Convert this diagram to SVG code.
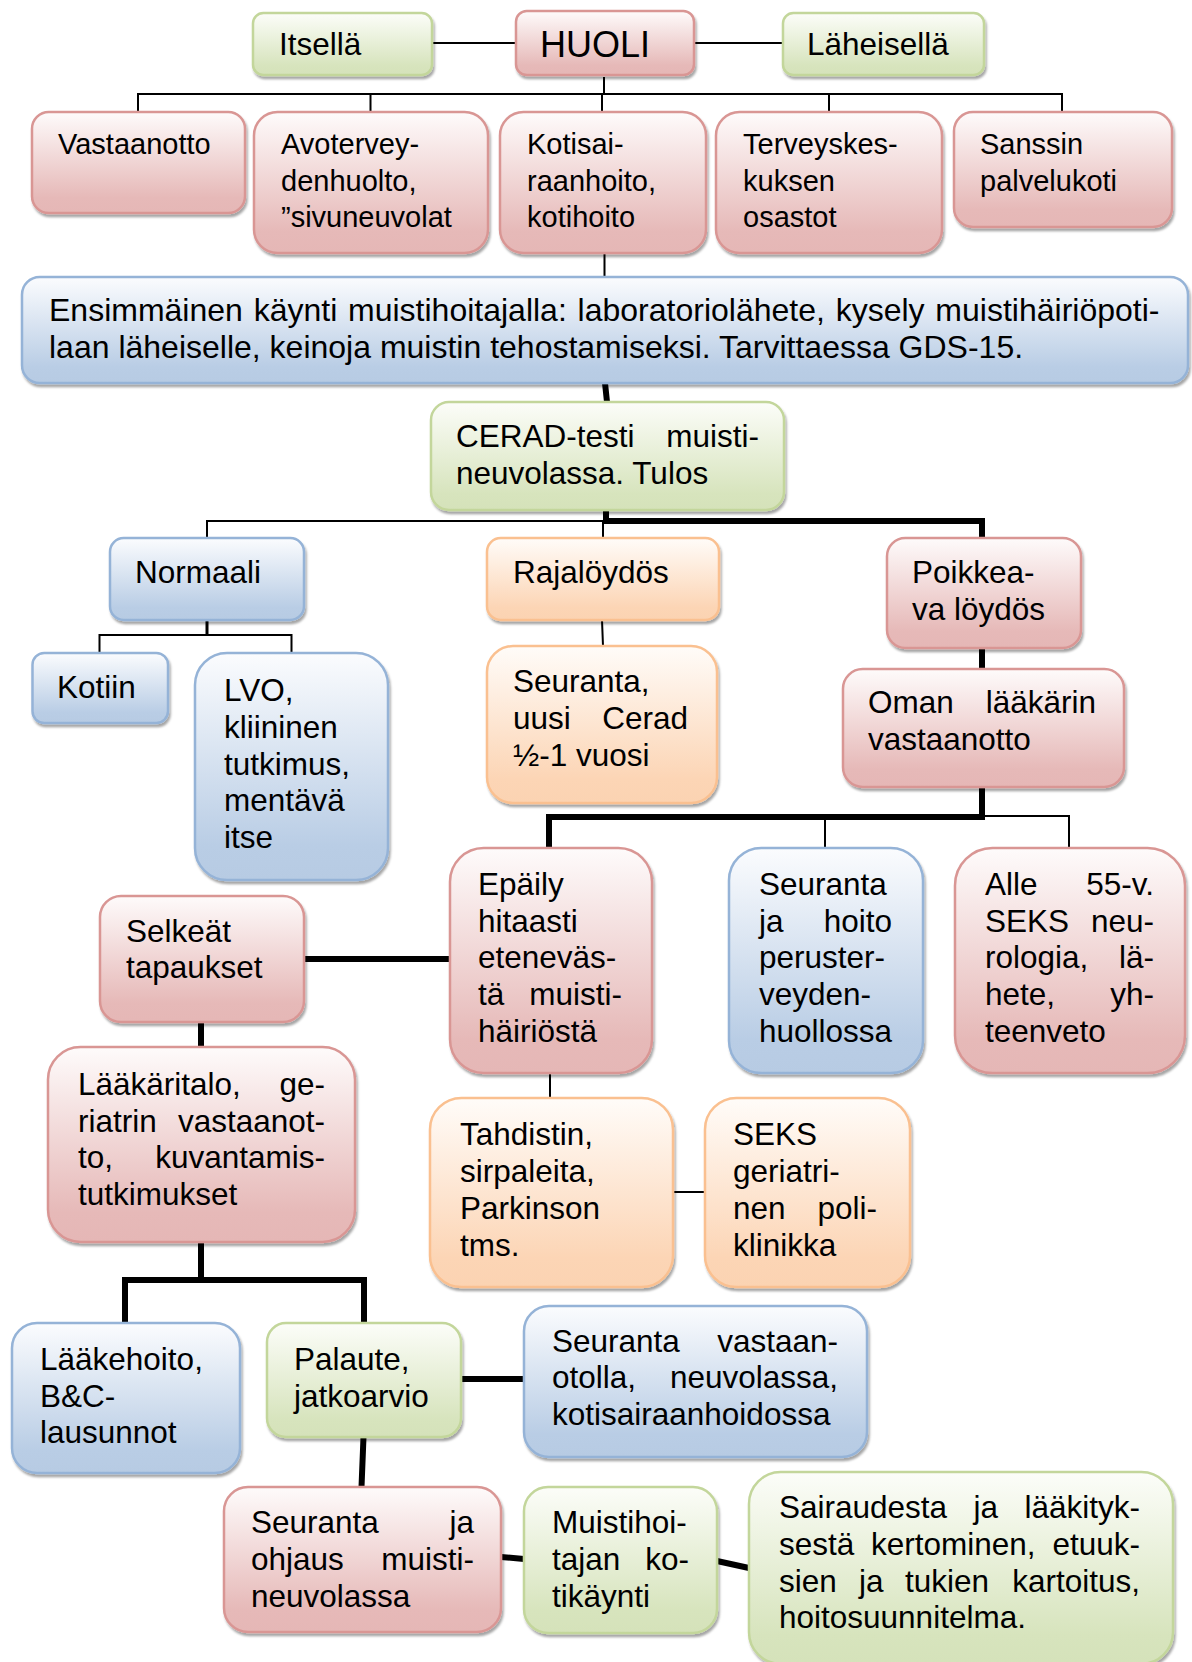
<svg xmlns="http://www.w3.org/2000/svg" width="1192" height="1662" viewBox="0 0 1192 1662">
<defs>
<linearGradient id="gR" x1="0" y1="0" x2="0" y2="1"><stop offset="0" stop-color="#fefbfb"/><stop offset="0.85" stop-color="#e6b9b8"/><stop offset="1" stop-color="#e5b7b6"/></linearGradient>
<linearGradient id="gG" x1="0" y1="0" x2="0" y2="1"><stop offset="0" stop-color="#fcfdf9"/><stop offset="0.85" stop-color="#d7e4bd"/><stop offset="1" stop-color="#d5e2ba"/></linearGradient>
<linearGradient id="gB" x1="0" y1="0" x2="0" y2="1"><stop offset="0" stop-color="#fbfcfe"/><stop offset="0.85" stop-color="#b9cde5"/><stop offset="1" stop-color="#b7cbe3"/></linearGradient>
<linearGradient id="gO" x1="0" y1="0" x2="0" y2="1"><stop offset="0" stop-color="#fffcf9"/><stop offset="0.85" stop-color="#fcd5b5"/><stop offset="1" stop-color="#fbd3b2"/></linearGradient>
<filter id="sh" x="-5%" y="-5%" width="115%" height="125%"><feDropShadow dx="1.5" dy="3" stdDeviation="1.3" flood-color="#000" flood-opacity="0.35"/></filter>
</defs>
<style>
rect{stroke-width:2.5;filter:url(#sh)}
.r rect{fill:url(#gR);stroke:#d99694}
.g rect{fill:url(#gG);stroke:#c3d69b}
.b rect{fill:url(#gB);stroke:#95b3d7}
.o rect{fill:url(#gO);stroke:#fac090}
text{font-family:"Liberation Sans",Arial,sans-serif;font-size:31.5px;fill:#000}
.s text{font-size:29px}
.e{text-anchor:end}
#conn path{stroke:#000;fill:none;stroke-linecap:butt;stroke-linejoin:miter}
#conn .th{stroke-width:2}
#conn .md{stroke-width:3}
#conn .tk{stroke-width:6}
</style>
<g id="conn">
<path class="th" d="M432 43H516M694 43H783M604 77V94M138 112V94H1062V112M370.5 94V112M602 94V112M829 94V112M604.5 253V277"/>
<path class="th" d="M207 538V521H606M603 521V538M602 620L603 646M99.5 653V635H291.5V653M982 816H1069V848M825 817V848M550 1073V1098M673 1192H705"/>
<path class="md" d="M207 620V635"/>
<path class="tk" d="M605 383L607 402M606 510V521H982V538M982 648V669M982 787V817H549V848M304 959H450M201 1022V1047M201 1242V1280M125 1323V1280H364V1323M461 1379H524M363.5 1437L361.5 1487M501 1557L524 1559M717 1561L749 1568"/>
</g>
<g id="n-itsella" class="g"><rect x="253" y="13" width="179" height="62" rx="10.3"/><text x="279" y="55">Itsellä</text></g>
<g id="n-huoli" class="r"><rect x="516" y="11" width="178" height="64" rx="10.7"/><text x="540" y="57" style="font-size:36px">HUOLI</text></g>
<g id="n-laheisella" class="g"><rect x="783" y="13" width="201" height="62" rx="10.3"/><text x="807" y="55">Läheisellä</text></g>
<g id="n-vastaanotto" class="r s"><rect x="32" y="112" width="213" height="101" rx="16.8"/><text x="58" y="154">Vastaanotto</text></g>
<g id="n-avo" class="r s"><rect x="254" y="112" width="234" height="141" rx="23.5"/><text x="281" y="154">Avotervey-</text><text x="281" y="190.5">denhuolto,</text><text x="281" y="227">”sivuneuvolat</text></g>
<g id="n-kotisai" class="r s"><rect x="500" y="112" width="206" height="141" rx="23.5"/><text x="527" y="154">Kotisai-</text><text x="527" y="190.5">raanhoito,</text><text x="527" y="227">kotihoito</text></g>
<g id="n-terveys" class="r s"><rect x="716" y="112" width="226" height="141" rx="23.5"/><text x="743" y="154">Terveyskes-</text><text x="743" y="190.5">kuksen</text><text x="743" y="227">osastot</text></g>
<g id="n-sanssin" class="r s"><rect x="954" y="112" width="218" height="115" rx="19"/><text x="980" y="154">Sanssin</text><text x="980" y="190.5">palvelukoti</text></g>
<g id="n-ensimmainen" class="b"><rect x="22" y="277" width="1166" height="106" rx="17.7"/><text x="49" y="321" style="font-size:32px" word-spacing="1.9">Ensimmäinen käynti muistihoitajalla: laboratoriolähete, kysely muistihäiriöpoti-</text><text x="49" y="358" style="font-size:32px">laan läheiselle, keinoja muistin tehostamiseksi. Tarvittaessa GDS-15.</text></g>
<g id="n-cerad" class="g"><rect x="431" y="402" width="353" height="108" rx="18"/><text x="456" y="447">CERAD-testi</text><text class="e" x="759" y="447">muisti-</text><text x="456" y="484">neuvolassa. Tulos</text></g>
<g id="n-normaali" class="b"><rect x="110" y="538" width="194" height="82" rx="13.7"/><text x="135" y="583">Normaali</text></g>
<g id="n-rajaloydos" class="o"><rect x="487" y="538" width="232" height="82" rx="13.7"/><text x="513" y="583">Rajalöydös</text></g>
<g id="n-poikkea" class="r"><rect x="887" y="538" width="194" height="110" rx="18.3"/><text x="912" y="583">Poikkea-</text><text x="912" y="620">va löydös</text></g>
<g id="n-kotiin" class="b"><rect x="32.5" y="653" width="135.5" height="70" rx="11.7"/><text x="57" y="698">Kotiin</text></g>
<g id="n-lvo" class="b"><rect x="195" y="653" width="193" height="227" rx="32"/><text x="224" y="701">LVO,</text><text x="224" y="738">kliininen</text><text x="224" y="775">tutkimus,</text><text x="224" y="811">mentävä</text><text x="224" y="848">itse</text></g>
<g id="n-seuranta-cerad" class="o"><rect x="487" y="646" width="230" height="157" rx="26"/><text x="513" y="692">Seuranta,</text><text x="513" y="729">uusi</text><text class="e" x="688" y="729">Cerad</text><text x="513" y="766">½-1 vuosi</text></g>
<g id="n-oman" class="r"><rect x="843" y="669" width="281" height="118" rx="19.7"/><text x="868" y="713">Oman</text><text class="e" x="1096" y="713">lääkärin</text><text x="868" y="750">vastaanotto</text></g>
<g id="n-epaily" class="r"><rect x="450" y="848" width="202" height="225" rx="33.7"/><text x="478" y="895">Epäily</text><text x="478" y="932">hitaasti</text><text x="478" y="968">eteneväs-</text><text x="478" y="1005">tä</text><text class="e" x="622" y="1005">muisti-</text><text x="478" y="1042">häiriöstä</text></g>
<g id="n-seuranta-hoito" class="b"><rect x="729" y="848" width="194" height="225" rx="32.3"/><text x="759" y="895">Seuranta</text><text x="759" y="932">ja</text><text class="e" x="892" y="932">hoito</text><text x="759" y="968">peruster-</text><text x="759" y="1005">veyden-</text><text x="759" y="1042">huollossa</text></g>
<g id="n-alle55" class="r"><rect x="955" y="848" width="230" height="225" rx="37.5"/><text x="985" y="895">Alle</text><text class="e" x="1154" y="895">55-v.</text><text x="985" y="932">SEKS</text><text class="e" x="1154" y="932">neu-</text><text x="985" y="968">rologia,</text><text class="e" x="1154" y="968">lä-</text><text x="985" y="1005">hete,</text><text class="e" x="1154" y="1005">yh-</text><text x="985" y="1042">teenveto</text></g>
<g id="n-selkeat" class="r"><rect x="100" y="896" width="204" height="126" rx="21"/><text x="126" y="942">Selkeät</text><text x="126" y="978">tapaukset</text></g>
<g id="n-laakaritalo" class="r"><rect x="48" y="1047" width="307" height="195" rx="32.5"/><text x="78" y="1095">Lääkäritalo,</text><text class="e" x="325" y="1095">ge-</text><text x="78" y="1132">riatrin</text><text class="e" x="325" y="1132">vastaanot-</text><text x="78" y="1168">to,</text><text class="e" x="325" y="1168">kuvantamis-</text><text x="78" y="1205">tutkimukset</text></g>
<g id="n-tahdistin" class="o"><rect x="430" y="1098" width="243" height="189" rx="31.5"/><text x="460" y="1145">Tahdistin,</text><text x="460" y="1182">sirpaleita,</text><text x="460" y="1219">Parkinson</text><text x="460" y="1256">tms.</text></g>
<g id="n-seks-geriatri" class="o"><rect x="705" y="1098" width="205" height="189" rx="31.5"/><text x="733" y="1145">SEKS</text><text x="733" y="1182">geriatri-</text><text x="733" y="1219">nen</text><text class="e" x="877" y="1219">poli-</text><text x="733" y="1256">klinikka</text></g>
<g id="n-laakehoito" class="b"><rect x="12" y="1323" width="228" height="150" rx="25"/><text x="40" y="1370">Lääkehoito,</text><text x="40" y="1407">B&amp;C-</text><text x="40" y="1443">lausunnot</text></g>
<g id="n-palaute" class="g"><rect x="267" y="1323" width="194" height="114" rx="19"/><text x="294" y="1370">Palaute,</text><text x="294" y="1407">jatkoarvio</text></g>
<g id="n-seuranta-vast" class="b"><rect x="524" y="1306" width="343" height="151" rx="25"/><text x="552" y="1352">Seuranta</text><text class="e" x="838" y="1352">vastaan-</text><text x="552" y="1388">otolla,</text><text class="e" x="838" y="1388">neuvolassa,</text><text x="552" y="1425">kotisairaanhoidossa</text></g>
<g id="n-seuranta-ohjaus" class="r"><rect x="224" y="1487" width="277" height="145" rx="24"/><text x="251" y="1533">Seuranta</text><text class="e" x="474" y="1533">ja</text><text x="251" y="1570">ohjaus</text><text class="e" x="474" y="1570">muisti-</text><text x="251" y="1607">neuvolassa</text></g>
<g id="n-muistihoitaja" class="g"><rect x="524" y="1487" width="193" height="146" rx="24"/><text x="552" y="1533">Muistihoi-</text><text x="552" y="1570">tajan</text><text class="e" x="689" y="1570">ko-</text><text x="552" y="1607">tikäynti</text></g>
<g id="n-sairaudesta" class="g"><rect x="749" y="1472" width="424" height="192" rx="31.7"/><text x="779" y="1518">Sairaudesta</text><text x="973.5" y="1518">ja</text><text class="e" x="1140" y="1518">lääkityk-</text><text x="779" y="1555">sestä</text><text x="871" y="1555">kertominen,</text><text class="e" x="1140" y="1555">etuuk-</text><text x="779" y="1592">sien</text><text x="859" y="1592">ja</text><text x="905" y="1592">tukien</text><text class="e" x="1140" y="1592">kartoitus,</text><text x="779" y="1628">hoitosuunnitelma.</text></g>
</svg>
